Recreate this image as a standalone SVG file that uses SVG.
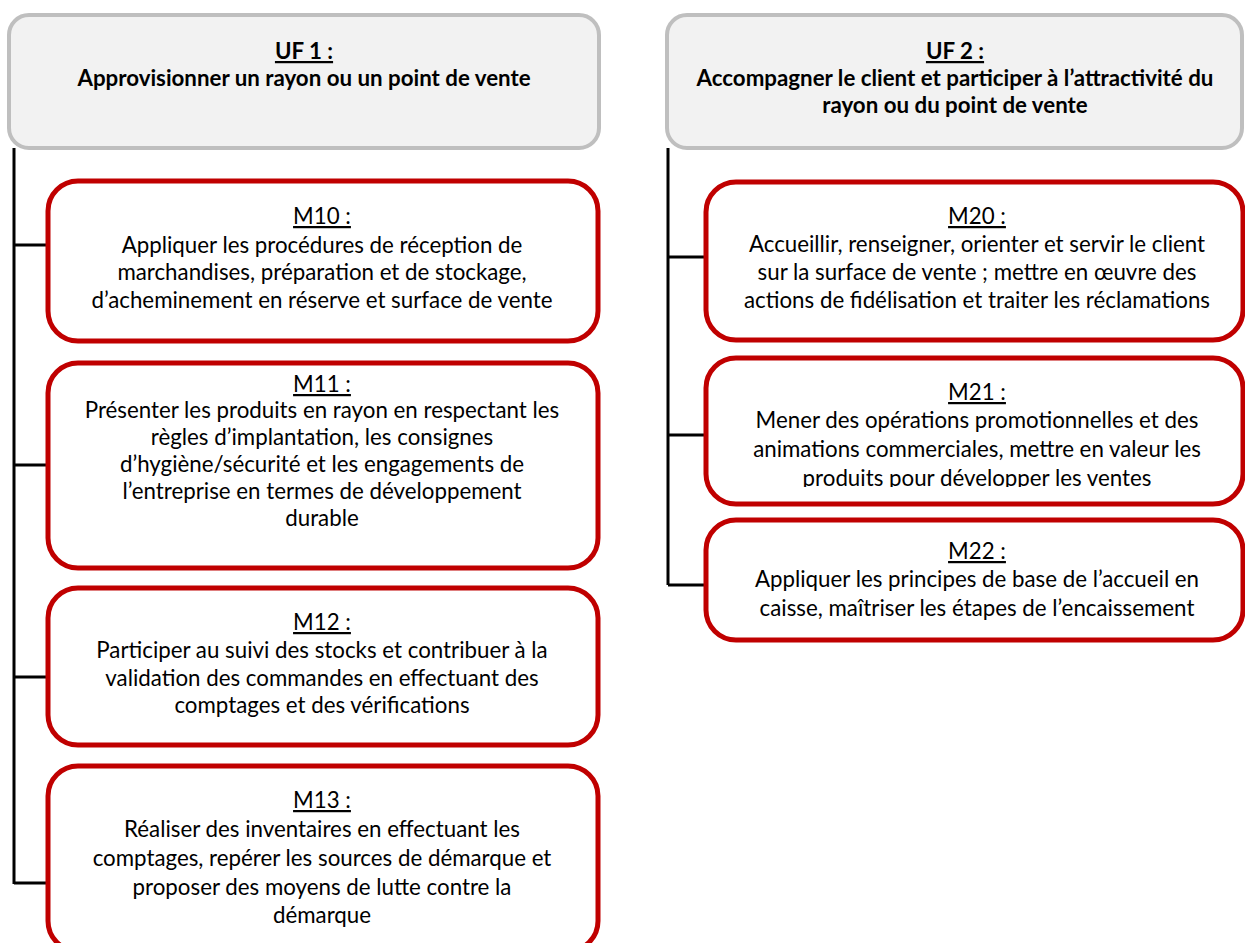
<svg xmlns="http://www.w3.org/2000/svg" width="1245" height="943" viewBox="0 0 1245 943">
<style>
.uf{fill:#F2F2F2;stroke:#BFBFBF;stroke-width:4}
.m{fill:#FFFFFF;stroke:#C00000;stroke-width:5}
.c{stroke:#000;stroke-width:3;fill:none}
.t{font-family:Lato,"Liberation Sans",sans-serif;font-size:22.3px;fill:#000;text-anchor:middle}
.b{font-weight:bold}
.u{text-decoration:underline}
</style>
<defs>
<clipPath id="clipM21"><rect x="706" y="358" width="540" height="129"/></clipPath>
</defs>
<rect width="1245" height="943" fill="#FFFFFF"/>
<g id="connectors">
<path class="c" d="M14 148 V884 M14 245 H48 M14 465 H48 M14 677 H48 M14 883 H48"/>
<path class="c" d="M668 148 V585 M668 257 H706 M668 435 H706 M668 585 H706"/>
</g>
<g id="uf1">
<rect class="uf" x="9" y="15" width="590" height="133" rx="20"/>
<text class="t b" x="304" y="59"><tspan class="u">UF 1 :</tspan></text>
<text class="t b" x="304" y="86">Approvisionner un rayon ou un point de vente</text>
</g>
<g id="m10">
<rect class="m" x="48" y="181" width="550" height="160" rx="30"/>
<text class="t" x="322" y="224"><tspan class="u">M10 :</tspan></text>
<text class="t" x="322" y="253">Appliquer les procédures de réception de</text>
<text class="t" x="322" y="280">marchandises, préparation et de stockage,</text>
<text class="t" x="322" y="308">d’acheminement en réserve et surface de vente</text>
</g>
<g id="m11">
<rect class="m" x="48" y="363" width="550" height="205" rx="30"/>
<text class="t" x="322" y="392"><tspan class="u">M11 :</tspan></text>
<text class="t" x="322" y="418">Présenter les produits en rayon en respectant les</text>
<text class="t" x="322" y="445">règles d’implantation, les consignes</text>
<text class="t" x="322" y="472">d’hygiène/sécurité et les engagements de</text>
<text class="t" x="322" y="499">l’entreprise en termes de développement</text>
<text class="t" x="322" y="526">durable</text>
</g>
<g id="m12">
<rect class="m" x="48" y="588" width="550" height="157" rx="30"/>
<text class="t" x="322" y="630"><tspan class="u">M12 :</tspan></text>
<text class="t" x="322" y="658">Participer au suivi des stocks et contribuer à la</text>
<text class="t" x="322" y="686">validation des commandes en effectuant des</text>
<text class="t" x="322" y="713">comptages et des vérifications</text>
</g>
<g id="m13">
<rect class="m" x="48" y="766" width="550" height="185" rx="30"/>
<text class="t" x="322" y="808"><tspan class="u">M13 :</tspan></text>
<text class="t" x="322" y="837">Réaliser des inventaires en effectuant les</text>
<text class="t" x="322" y="866">comptages, repérer les sources de démarque et</text>
<text class="t" x="322" y="895">proposer des moyens de lutte contre la</text>
<text class="t" x="322" y="923">démarque</text>
</g>
<g id="uf2">
<rect class="uf" x="667" y="15" width="575" height="133" rx="20"/>
<text class="t b" x="955" y="59"><tspan class="u">UF 2 :</tspan></text>
<text class="t b" x="955" y="86">Accompagner le client et participer à l’attractivité du</text>
<text class="t b" x="955" y="113">rayon ou du point de vente</text>
</g>
<g id="m20">
<rect class="m" x="706" y="182" width="537" height="158" rx="30"/>
<text class="t" x="977" y="224"><tspan class="u">M20 :</tspan></text>
<text class="t" x="977" y="252">Accueillir, renseigner, orienter et servir le client</text>
<text class="t" x="977" y="280">sur la surface de vente ; mettre en œuvre des</text>
<text class="t" x="977" y="308">actions de fidélisation et traiter les réclamations</text>
</g>
<g id="m21">
<rect class="m" x="706" y="358" width="537" height="146" rx="30"/>
<g clip-path="url(#clipM21)">
<text class="t" x="977" y="400"><tspan class="u">M21 :</tspan></text>
<text class="t" x="977" y="428">Mener des opérations promotionnelles et des</text>
<text class="t" x="977" y="457">animations commerciales, mettre en valeur les</text>
<text class="t" x="977" y="486">produits pour développer les ventes</text>
</g>
</g>
<g id="m22">
<rect class="m" x="706" y="520" width="537" height="120" rx="30"/>
<text class="t" x="977" y="559"><tspan class="u">M22 :</tspan></text>
<text class="t" x="977" y="587">Appliquer les principes de base de l’accueil en</text>
<text class="t" x="977" y="616">caisse, maîtriser les étapes de l’encaissement</text>
</g>
</svg>
